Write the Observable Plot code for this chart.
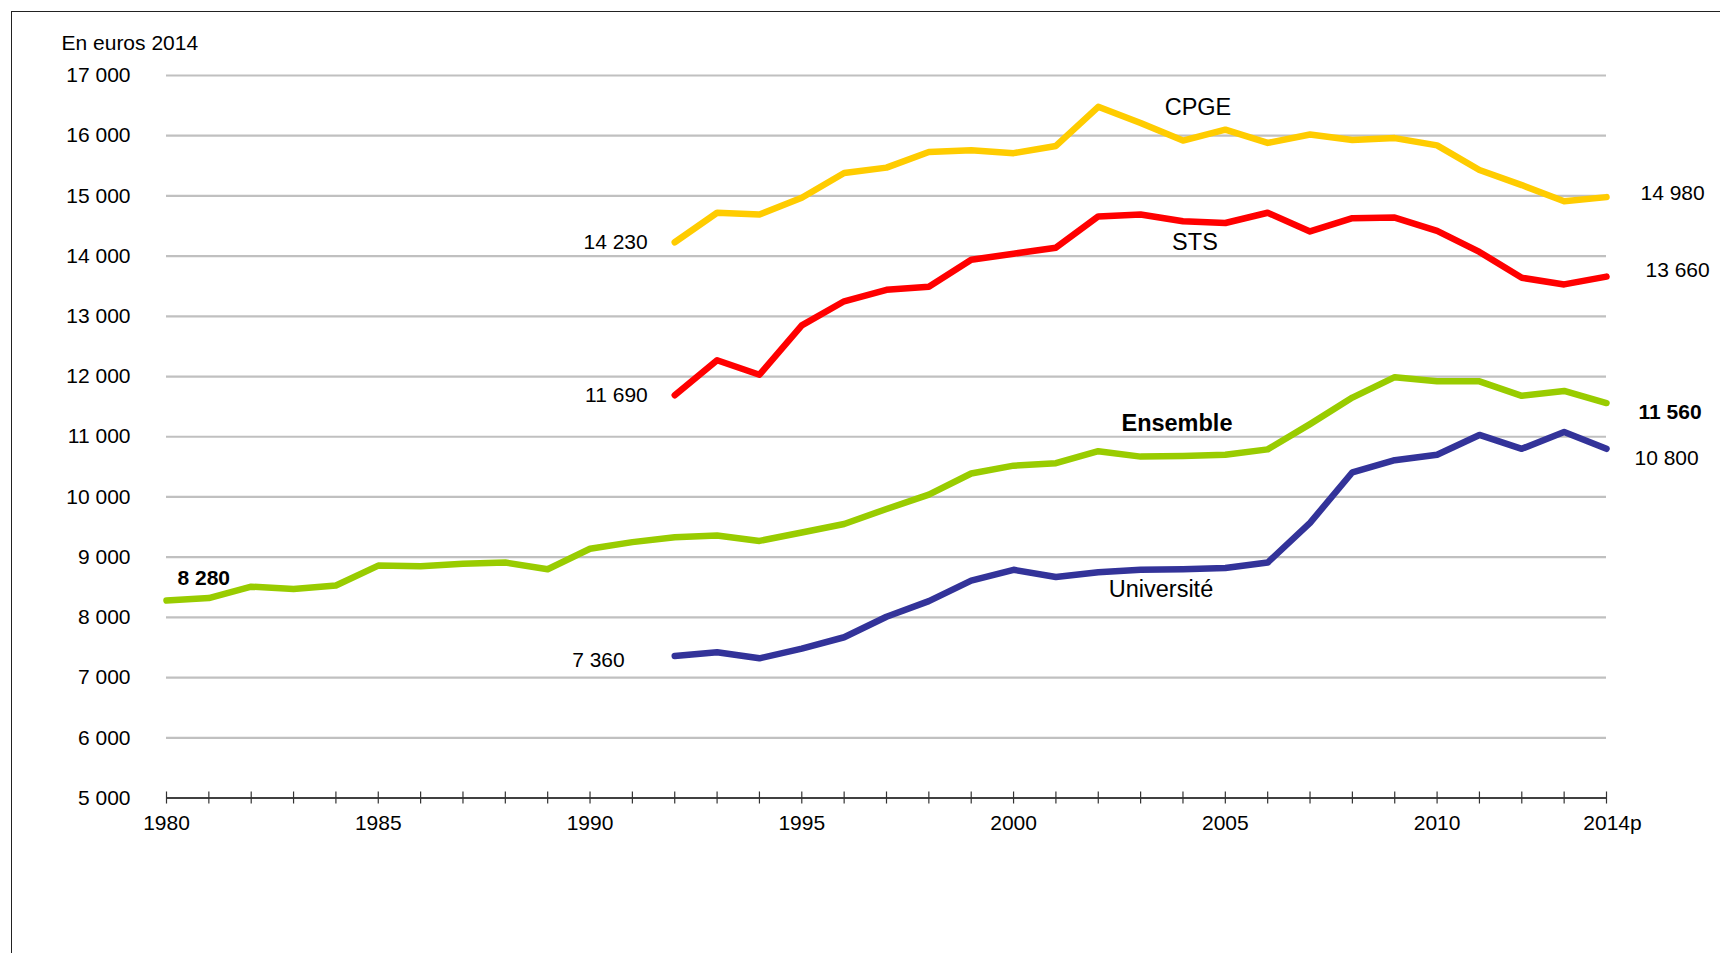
<!DOCTYPE html>
<html><head><meta charset="utf-8">
<script src="https://cdn.jsdelivr.net/npm/d3@7"></script>
<script src="https://cdn.jsdelivr.net/npm/@observablehq/plot@0.6"></script>
<style>
html,body{margin:0;padding:0;background:#fff;}
#wrap{position:relative;width:1720px;height:953px;overflow:hidden;background:#fff;}
#frame{position:absolute;left:11px;top:11px;width:1720px;height:960px;border-left:1.5px solid #222;border-top:1.5px solid #222;pointer-events:none;}
svg{overflow:visible;}
</style></head><body>
<div id="wrap"><div id="chart"></div><div id="frame"></div></div>
<script>
// ---- data ----
const yearsAll = [1980,1981,1982,1983,1984,1985,1986,1987,1988,1989,1990,1991,1992,1993,1994,1995,1996,1997,1998,1999,2000,2001,2002,2003,2004,2005,2006,2007,2008,2009,2010,2011,2012,2013,2014];
const yearsFrom1992 = [1992,1993,1994,1995,1996,1997,1998,1999,2000,2001,2002,2003,2004,2005,2006,2007,2008,2009,2010,2011,2012,2013,2014];
const ensemble = [8280,8320,8510,8470,8530,8860,8850,8890,8910,8800,9140,9250,9330,9360,9270,9410,9550,9800,10040,10390,10520,10560,10760,10670,10680,10700,10790,11210,11650,11990,11920,11920,11680,11760,11560];
const cpge = [14230,14720,14690,14970,15380,15470,15730,15760,15710,15830,16480,16210,15920,16100,15880,16020,15930,15960,15840,15430,15180,14910,14980];
const sts = [11690,12270,12030,12850,13250,13440,13490,13940,14040,14140,14660,14690,14580,14550,14720,14410,14630,14640,14420,14070,13640,13530,13660];
const universite = [7360,7420,7320,7480,7670,8010,8270,8610,8790,8670,8750,8790,8800,8820,8910,9570,10410,10610,10700,11030,10800,11080,10800];
const seriesNames = ["CPGE","STS","Ensemble","Université"];
const seriesColors = ["#FFCC00","#FF0000","#99CC00","#333399"];
const yTicks = [5000,6000,7000,8000,9000,10000,11000,12000,13000,14000,15000,16000,17000];
const xLabelYears = [1980,1985,1990,1995,2000,2005,2010];
const lastYearLabel = "2014p";
const unitLabel = "En euros 2014";

// ---- table ----
const rows = [];
function add(name, years, values){ years.forEach((y,i)=>rows.push({series:name, year:y, value:values[i]})); }
add("Ensemble", yearsAll, ensemble);
add("Université", yearsFrom1992, universite);
add("STS", yearsFrom1992, sts);
add("CPGE", yearsFrom1992, cpge);
const pt = (s, y) => rows.find(r => r.series === s && r.year === y);

const fmt = v => d3.format(",")(v).replace(/,/g, " ");
const FONT = "'Liberation Sans', Arial, sans-serif";
const FS = 21;

// value annotations anchored on the series' first / last points
const valueNotes = [
  {s:"CPGE", y:1992, anchor:"end", dx:-27, dy:0, bold:false},
  {s:"STS", y:1992, anchor:"end", dx:-27, dy:0, bold:false},
  {s:"Université", y:1992, anchor:"end", dx:-50, dy:4, bold:false},
  {s:"Ensemble", y:1980, anchor:"start", dx:11, dy:-22, bold:true},
  {s:"CPGE", y:2014, anchor:"start", dx:34, dy:-4, bold:false},
  {s:"STS", y:2014, anchor:"start", dx:39, dy:-6, bold:false},
  {s:"Ensemble", y:2014, anchor:"start", dx:32, dy:9, bold:true},
  {s:"Université", y:2014, anchor:"start", dx:28, dy:9, bold:false}
];
// series name annotations anchored on a series point
const nameNotes = [
  {s:"CPGE", y:2004, dx:15, dy:-33, bold:false},
  {s:"STS", y:2004, dx:12, dy:21, bold:false},
  {s:"Ensemble", y:2004, dx:-6, dy:-33, bold:true},
  {s:"Université", y:2004, dx:-22, dy:20, bold:false}
];

const marks = [
  Plot.ruleY(yTicks.filter(v => v !== yTicks[0]), {stroke:"#c0c0c0", strokeWidth:2.2}),
  Plot.ruleY([yTicks[0]], {stroke:"#000", strokeWidth:1.3}),
  Plot.ruleX(yearsAll, {x:d=>d, y1:yTicks[0]-100, y2:yTicks[0]+100, stroke:"#333", strokeWidth:1.2}),
  Plot.line(rows, {x:"year", y:"value", z:"series", stroke:"series", strokeWidth:6.5, strokeLinecap:"round", strokeLinejoin:"round"}),
  Plot.axisY({ticks:yTicks, tickSize:0, tickPadding:36, tickFormat:fmt, label:null, fontSize:FS}),
  Plot.text(xLabelYears, {x:d=>d, text:d=>String(d), frameAnchor:"bottom", dy:25, lineAnchor:"middle", fontSize:FS}),
  Plot.text([yearsAll[yearsAll.length-1]], {x:d=>d, text:()=>lastYearLabel, frameAnchor:"bottom", dy:25, dx:6, lineAnchor:"middle", fontSize:FS}),
  Plot.text([unitLabel], {text:d=>d, frameAnchor:"top-left", dx:-105, dy:-32, textAnchor:"start", lineAnchor:"middle", fontSize:FS})
];
for (const n of valueNotes) {
  const p = pt(n.s, n.y);
  marks.push(Plot.text([p], {x:"year", y:"value", text:d=>fmt(d.value), textAnchor:n.anchor, dx:n.dx, dy:n.dy, lineAnchor:"middle", fontSize:FS, fontWeight:n.bold?"bold":"normal", fill:"#000"}));
}
for (const n of nameNotes) {
  const p = pt(n.s, n.y);
  marks.push(Plot.text([p], {x:"year", y:"value", text:d=>d.series, textAnchor:"middle", dx:n.dx, dy:n.dy, lineAnchor:"middle", fontSize:23.5, fontWeight:n.bold?"bold":"normal", fill:"#000"}));
}

const chart = Plot.plot({
  width:1720, height:953,
  marginLeft:166, marginRight:114, marginTop:75, marginBottom:155.5,
  style:{fontFamily:FONT, fontSize:FS+"px", color:"#000", background:"#fff"},
  x:{domain:[1980,2014], axis:null},
  y:{domain:[5000,17000], axis:null},
  color:{domain:seriesNames, range:seriesColors},
  marks
});
document.getElementById("chart").appendChild(chart);
</script>
</body></html>
